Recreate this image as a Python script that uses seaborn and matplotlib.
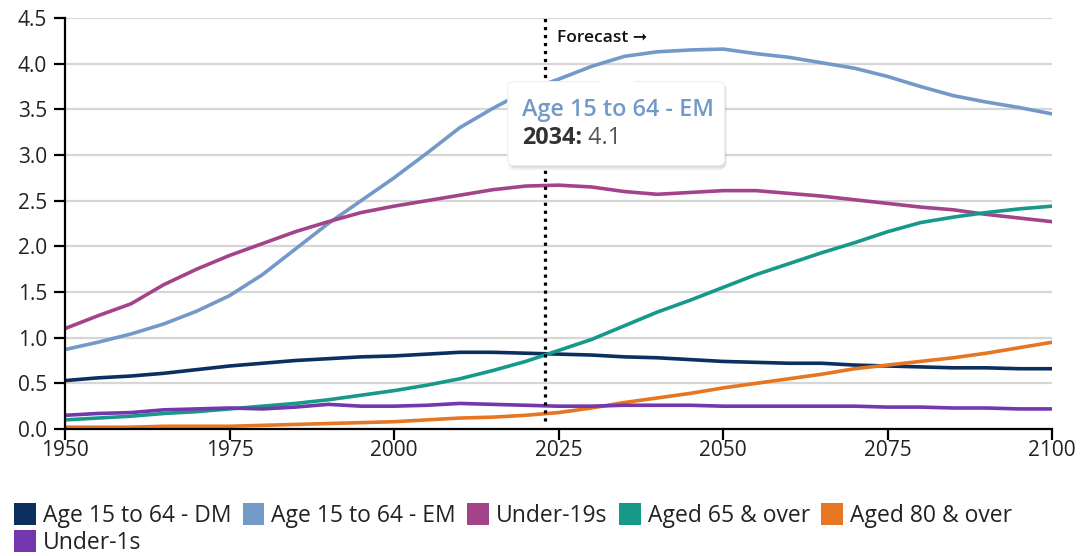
import numpy as np
import pandas as pd
import matplotlib
matplotlib.use("Agg")
import matplotlib.pyplot as plt
import matplotlib.transforms as mtransforms
from matplotlib.patches import FancyBboxPatch, Polygon, Patch
import seaborn as sns

years = list(range(1950, 2101, 5))

dm = [0.53, 0.56, 0.58, 0.61, 0.65, 0.69, 0.72, 0.75, 0.77, 0.79, 0.80, 0.82, 0.84, 0.84, 0.83, 0.82,
      0.81, 0.79, 0.78, 0.76, 0.74, 0.73, 0.72, 0.72, 0.70, 0.69, 0.68, 0.67, 0.67, 0.66, 0.66]
em = [0.87, 0.95, 1.04, 1.15, 1.29, 1.46, 1.69, 1.97, 2.25, 2.50, 2.75, 3.02, 3.30, 3.51, 3.70, 3.83,
      3.97, 4.08, 4.13, 4.15, 4.16, 4.11, 4.07, 4.01, 3.95, 3.86, 3.75, 3.65, 3.58, 3.52, 3.45]
under19 = [1.10, 1.24, 1.37, 1.58, 1.75, 1.90, 2.03, 2.16, 2.27, 2.37, 2.44, 2.50, 2.56, 2.62, 2.66, 2.67,
           2.65, 2.60, 2.57, 2.59, 2.61, 2.61, 2.58, 2.55, 2.51, 2.47, 2.43, 2.40, 2.35, 2.31, 2.27]
aged65 = [0.10, 0.12, 0.14, 0.17, 0.19, 0.22, 0.25, 0.28, 0.32, 0.37, 0.42, 0.48, 0.55, 0.64, 0.74, 0.86,
          0.98, 1.13, 1.28, 1.41, 1.55, 1.69, 1.81, 1.93, 2.04, 2.16, 2.26, 2.32, 2.37, 2.41, 2.44]
aged80 = [0.02, 0.02, 0.02, 0.03, 0.03, 0.03, 0.04, 0.05, 0.06, 0.07, 0.08, 0.10, 0.12, 0.13, 0.15, 0.18,
          0.23, 0.29, 0.34, 0.39, 0.45, 0.50, 0.55, 0.60, 0.66, 0.70, 0.74, 0.78, 0.83, 0.89, 0.95]
under1 = [0.15, 0.17, 0.18, 0.21, 0.22, 0.23, 0.22, 0.24, 0.27, 0.25, 0.25, 0.26, 0.28, 0.27, 0.26, 0.25,
          0.25, 0.26, 0.26, 0.26, 0.25, 0.25, 0.25, 0.25, 0.25, 0.24, 0.24, 0.23, 0.23, 0.22, 0.22]

series_names = ["Age 15 to 64 - DM", "Age 15 to 64 - EM", "Under-19s",
                "Aged 65 & over", "Aged 80 & over", "Under-1s"]
series_values = [dm, em, under19, aged65, aged80, under1]
colors = ["#0b2f5f", "#7399c9", "#a3448a", "#17998a", "#e67622", "#7337ae"]

y_ticks = [0.0, 0.5, 1.0, 1.5, 2.0, 2.5, 3.0, 3.5, 4.0, 4.5]
x_ticks = [1950, 1975, 2000, 2025, 2050, 2075, 2100]
forecast_year = 2023
tip_series = "Age 15 to 64 - EM"
tip_year = 2034
tip_value = 4.1

df = pd.DataFrame({
    "year": np.tile(years, len(series_names)),
    "value": np.concatenate(series_values),
    "series": np.repeat(series_names, len(years)),
})

sns.set_style("white")
plt.rcParams["font.family"] = ["Open Sans", "DejaVu Sans"]

fig, ax = plt.subplots(figsize=(10.82, 5.56), dpi=100)
fig.subplots_adjust(left=0.0601, right=0.9723, bottom=0.2284, top=0.9676)

palette = dict(zip(series_names, colors))
sns.lineplot(data=df, x="year", y="value", hue="series", hue_order=series_names,
             palette=palette, linewidth=2.6, legend=False, ax=ax, zorder=3)

ax.set_xlim(1950, 2100)
ax.set_ylim(0, 4.5)
ax.set_xticks(x_ticks)
ax.set_yticks(y_ticks)
ax.set_yticklabels([f"{v:.1f}" for v in y_ticks])
ax.set_xlabel("")
ax.set_ylabel("")
ax.grid(axis="y", color="#d6d6d6", linewidth=1.6, zorder=0)
ax.grid(axis="x", visible=False)
for s in ["top", "right"]:
    ax.spines[s].set_visible(False)
for s in ["left", "bottom"]:
    ax.spines[s].set_color("black")
    ax.spines[s].set_linewidth(1.6)
    ax.spines[s].set_zorder(4)
ax.tick_params(axis="y", length=8, width=1.6, color="black", pad=5,
               labelsize=15, labelcolor="#222222", left=True)
ax.tick_params(axis="x", length=8, width=1.6, color="black", pad=0,
               labelsize=15, labelcolor="#222222", bottom=True)
ax.set_axisbelow(True)

# Forecast divider
ax.axvline(forecast_year, ymin=0.02, ymax=1.0, color="black", linewidth=2.3,
           linestyle=(0, (1, 1.5)), zorder=5)
ax.annotate("Forecast ➞", xy=(forecast_year, 4.5), xytext=(12, -20),
            textcoords="offset pixels", ha="left", va="center",
            fontsize=12.5, fontweight="semibold", color="#111111", zorder=6,
            family=["Open Sans", "DejaVu Sans"])

# Tooltip
anchor = mtransforms.IdentityTransform() + mtransforms.ScaledTranslation(
    tip_year, tip_value, ax.transData)
for dx, dy, al in [(2, -3, 0.08), (1, -1, 0.07), (0, -5, 0.04)]:
    sh = FancyBboxPatch((-110 + dx, -111 + dy), 217, 84,
                        boxstyle="round,pad=0,rounding_size=6",
                        transform=anchor, facecolor="black", alpha=al,
                        edgecolor="none", zorder=8, clip_on=False)
    ax.add_patch(sh)
box = FancyBboxPatch((-110, -111), 217, 84, boxstyle="round,pad=0,rounding_size=6",
                     transform=anchor, facecolor="white", edgecolor="#eeeeee",
                     linewidth=0.8, zorder=9, clip_on=False)
ax.add_patch(box)
tri = Polygon([(-18, -28), (0, -10), (18, -28)], closed=True, transform=anchor,
              facecolor="white", edgecolor="none", zorder=9.5, clip_on=False)
ax.add_patch(tri)
ax.text(-96, -55, tip_series, transform=anchor, ha="left", va="center",
        fontsize=16.8, fontweight="semibold", color=palette[tip_series], zorder=10)
t1 = ax.text(-96, -83, f"{tip_year}:", transform=anchor, ha="left", va="center",
             fontsize=16.8, fontweight="bold", color="#333333", zorder=10)
ax.annotate(f" {tip_value}", xy=(1, 0.5), xycoords=t1, ha="left", va="center",
            fontsize=16.8, color="#555555", zorder=10)

# Legend (ordered so the sixth entry wraps onto a second row)
handles = [Patch(facecolor=c, edgecolor="none", label=n) for n, c in zip(series_names, colors)]
order = [0, 5, 1, 2, 3, 4]
leg = fig.legend([handles[i] for i in order], [series_names[i] for i in order],
                 loc="upper left", bbox_to_anchor=(0.013, 0.095), ncol=5,
                 frameon=False, fontsize=16.5, handlelength=0.95, handleheight=1.1,
                 handletextpad=0.3, columnspacing=0.5, labelspacing=0.1,
                 borderaxespad=0, borderpad=0)
for t in leg.get_texts():
    t.set_color("#222222")

fig.savefig("out.png", dpi=100)
